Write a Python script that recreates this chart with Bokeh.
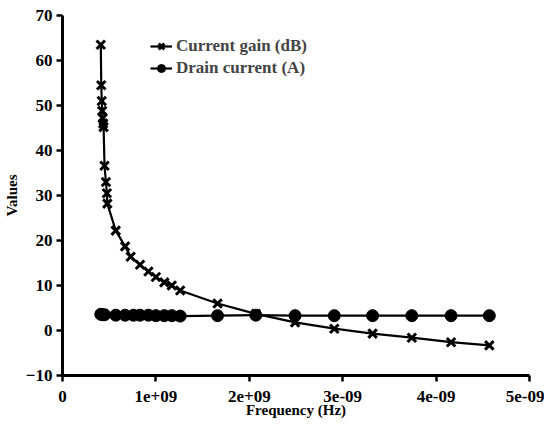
from bokeh.plotting import figure
from bokeh.models import Range1d, FixedTicker, Legend, LegendItem
from bokeh.embed import file_html
from bokeh.resources import INLINE

freq_gain = [0.41e9, 0.415e9, 0.42e9, 0.425e9, 0.43e9, 0.435e9, 0.44e9, 0.45e9, 0.465e9, 0.475e9, 0.48e9,
             0.57e9, 0.67e9, 0.73e9, 0.83e9, 0.92e9, 1.0e9, 1.09e9, 1.17e9, 1.26e9,
             1.66e9, 2.07e9, 2.49e9, 2.91e9, 3.32e9, 3.74e9, 4.16e9, 4.57e9]
current_gain = [63.5, 54.5, 51.0, 48.8, 47.2, 46.0, 45.2, 36.6, 33.0, 30.5, 28.2,
                22.2, 18.7, 16.4, 14.6, 13.1, 11.9, 10.7, 10.0, 8.9,
                6.0, 3.7, 1.8, 0.4, -0.7, -1.6, -2.6, -3.3]

freq_drain = [0.41e9, 0.43e9, 0.45e9, 0.57e9, 0.67e9, 0.76e9, 0.83e9, 0.92e9, 1.0e9, 1.09e9, 1.17e9, 1.26e9,
              1.66e9, 2.07e9, 2.49e9, 2.91e9, 3.32e9, 3.74e9, 4.16e9, 4.57e9]
drain_current = [3.6, 3.5, 3.5, 3.4, 3.4, 3.4, 3.4, 3.4, 3.3, 3.3, 3.3, 3.2,
                 3.3, 3.4, 3.3, 3.3, 3.3, 3.3, 3.3, 3.3]

x_ticks = [0, 1e9, 2e9, 3e9, 4e9, 5e9]
x_tick_labels = ["0", "1e+09", "2e+09", "3e-09", "4e-09", "5e-09"]
y_ticks = [-10, 0, 10, 20, 30, 40, 50, 60, 70]

FONT = "Liberation Serif"

p = figure(width=544, height=420, output_backend="svg", toolbar_location=None,
           x_range=Range1d(0, 5e9), y_range=Range1d(-10, 70),
           min_border_left=54, min_border_right=15, min_border_top=15, min_border_bottom=45)
p.outline_line_color = None
p.xgrid.visible = False
p.ygrid.visible = False

r1l = p.line(freq_gain, current_gain, line_color="black", line_width=2.2)
r1s = p.scatter(freq_gain, current_gain, marker="x", size=12, line_color="black", line_width=3)
r2l = p.line(freq_drain, drain_current, line_color="black", line_width=2.2)
r2s = p.scatter(freq_drain, drain_current, marker="circle", size=12, fill_color="black", line_color="black")

for ax in (p.xaxis[0], p.yaxis[0]):
    ax.axis_line_width = 3
    ax.major_tick_line_width = 2.5
    ax.major_tick_out = 6
    ax.major_tick_in = 0
    ax.minor_tick_line_color = None
    ax.major_label_text_font = FONT
    ax.major_label_text_font_style = "bold"
    ax.major_label_text_font_size = "17px"
    ax.major_label_text_color = "black"
    ax.axis_label_text_font = FONT
    ax.axis_label_text_font_style = "bold"
    ax.axis_label_text_font_size = "15px"
    ax.axis_label_text_color = "black"

p.xaxis[0].ticker = FixedTicker(ticks=x_ticks)
p.xaxis[0].major_label_overrides = {t: l for t, l in zip(x_ticks, x_tick_labels)}
p.xaxis[0].axis_label = "Frequency (Hz)"
p.xaxis[0].major_label_standoff = 9
p.xaxis[0].axis_label_standoff = -3
p.yaxis[0].ticker = FixedTicker(ticks=y_ticks)
p.yaxis[0].axis_label = "Values"
p.yaxis[0].major_label_standoff = 4
p.yaxis[0].axis_label_standoff = 3

legend = Legend(items=[LegendItem(label="Current gain (dB)", renderers=[r1l, r1s]),
                       LegendItem(label="Drain current (A)", renderers=[r2l, r2s])],
                location=(88, 297))
legend.border_line_alpha = 0
legend.background_fill_alpha = 0
legend.padding = 0
legend.margin = 0
legend.spacing = 2
legend.glyph_width = 22
legend.glyph_height = 20
legend.label_standoff = 4
legend.label_text_font = FONT
legend.label_text_font_style = "bold"
legend.label_text_font_size = "17px"
p.add_layout(legend, "center")

open("out.html", "w").write(file_html(p, INLINE))
